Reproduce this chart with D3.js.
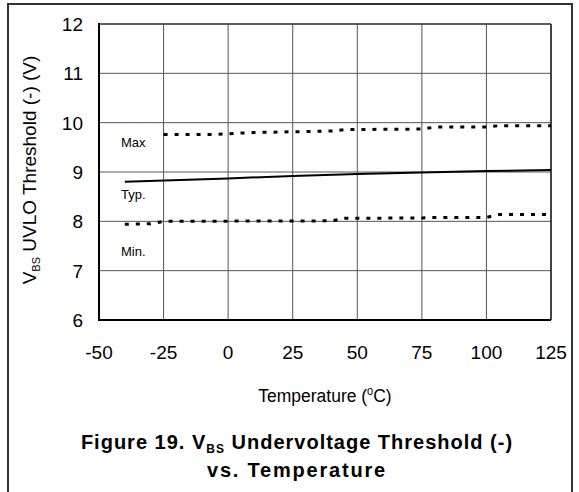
<!DOCTYPE html>
<html>
<head>
<meta charset="utf-8">
<script src="https://cdn.jsdelivr.net/npm/d3@7"></script>
<style>
body { margin: 0; background: #fff; }
text { font-family: Arial, "Liberation Sans", sans-serif; fill: #000; }
</style>
</head>
<body>
<script>
// values
var typTemp = [-40, 0, 25, 50, 75, 100, 125];
var typVolt = [8.80, 8.87, 8.92, 8.96, 8.99, 9.02, 9.04];

var maxTemp = [-25, -5, 5, 10, 40, 45, 75, 80, 100, 105, 125];
var maxVolt = [9.76, 9.76, 9.79, 9.80, 9.83, 9.86, 9.87, 9.91, 9.91, 9.94, 9.94];

var minTemp = [-40, -30, -25, 40, 45, 75, 80, 100, 105, 125];
var minVolt = [7.94, 7.95, 8.00, 8.01, 8.06, 8.07, 8.08, 8.08, 8.14, 8.14];

var xTicks = [-50, -25, 0, 25, 50, 75, 100, 125];
var yTicks = [6, 7, 8, 9, 10, 11, 12];

const width = 579, height = 492;

var svg = d3.select("body")
    .append("svg")
    .attr("width", width)
    .attr("height", height);

// outer frame
svg.append("rect")
    .attr("x", 8).attr("y", 4)
    .attr("width", 564).attr("height", 500)
    .attr("fill", "none")
    .attr("stroke", "#333")
    .attr("stroke-width", 2);

var x = d3.scaleLinear().domain([-50, 125]).range([99, 551]);
var y = d3.scaleLinear().domain([6, 12]).range([320, 24]);

// grid
svg.selectAll("line.vg")
    .data(xTicks)
    .enter()
    .append("line")
    .attr("x1", d => x(d)).attr("x2", d => x(d))
    .attr("y1", y(12)).attr("y2", y(6))
    .attr("stroke", "#555")
    .attr("stroke-width", 1);

svg.selectAll("line.hg")
    .data(yTicks)
    .enter()
    .append("line")
    .attr("x1", x(-50)).attr("x2", x(125))
    .attr("y1", d => y(d)).attr("y2", d => y(d))
    .attr("stroke", "#555")
    .attr("stroke-width", 1);

// frame of plot
svg.append("line")
    .attr("x1", x(-50)).attr("x2", x(125)).attr("y1", y(12)).attr("y2", y(12))
    .attr("stroke", "#444").attr("stroke-width", 1.5);
svg.append("line")
    .attr("x1", x(125)).attr("x2", x(125)).attr("y1", y(12)).attr("y2", y(6))
    .attr("stroke", "#222").attr("stroke-width", 1.5);
svg.append("line")
    .attr("x1", x(-50)).attr("x2", x(-50)).attr("y1", y(12) - 1).attr("y2", y(6) + 1)
    .attr("stroke", "#000").attr("stroke-width", 2);
svg.append("line")
    .attr("x1", x(-50) - 1).attr("x2", x(125)).attr("y1", y(6)).attr("y2", y(6))
    .attr("stroke", "#000").attr("stroke-width", 2);

// tick labels
svg.selectAll("text.yt")
    .data(yTicks)
    .enter()
    .append("text")
    .attr("x", 83)
    .attr("y", d => y(d) + 7)
    .attr("text-anchor", "end")
    .style("font-size", "19px")
    .text(d => d);

svg.selectAll("text.xt")
    .data(xTicks)
    .enter()
    .append("text")
    .attr("x", d => x(d))
    .attr("y", 359)
    .attr("text-anchor", "middle")
    .style("font-size", "19px")
    .text(d => d);

// axis titles
var yt = svg.append("text")
    .attr("transform", "translate(36,170) rotate(-90)")
    .attr("text-anchor", "middle")
    .style("font-size", "19px");
yt.append("tspan").text("V");
yt.append("tspan").attr("dy", 4).style("font-size", "11px").text("BS");
yt.append("tspan").attr("dy", -4).text(" UVLO Threshold (-) (V)");

var xt = svg.append("text")
    .attr("transform", "translate(325,402) scale(0.92,1)")
    .attr("text-anchor", "middle")
    .style("font-size", "19px");
xt.append("tspan").text("Temperature (");
xt.append("tspan").attr("dy", -7).style("font-size", "12px").text("o");
xt.append("tspan").attr("dy", 7).text("C)");

// caption
var c1 = svg.append("text")
    .attr("x", 297).attr("y", 449)
    .attr("text-anchor", "middle")
    .style("font-size", "20px")
    .style("font-weight", "bold")
    .style("letter-spacing", "1px");
c1.append("tspan").text("Figure 19. V");
c1.append("tspan").attr("dy", 4).style("font-size", "12px").text("BS");
c1.append("tspan").attr("dy", -4).text(" Undervoltage Threshold (-)");

svg.append("text")
    .attr("x", 297).attr("y", 477)
    .attr("text-anchor", "middle")
    .style("font-size", "20px")
    .style("font-weight", "bold")
    .style("letter-spacing", "1.8px")
    .text("vs. Temperature");

// curves
var line = d3.line()
    .x(d => x(d[0]))
    .y(d => y(d[1]));

svg.append("path")
    .datum(d3.zip(typTemp, typVolt))
    .attr("d", line)
    .attr("fill", "none")
    .attr("stroke", "#000")
    .attr("stroke-width", 2);

svg.append("path")
    .datum(d3.zip(maxTemp, maxVolt))
    .attr("d", line)
    .attr("fill", "none")
    .attr("stroke", "#000")
    .attr("stroke-width", 3)
    .attr("stroke-dasharray", "4,7");

svg.append("path")
    .datum(d3.zip(minTemp, minVolt))
    .attr("d", line)
    .attr("fill", "none")
    .attr("stroke", "#000")
    .attr("stroke-width", 3)
    .attr("stroke-dasharray", "4,7");

// curve labels
var labels = [["Max", 147], ["Typ.", 199], ["Min.", 256]];
svg.selectAll("text.lab")
    .data(labels)
    .enter()
    .append("text")
    .attr("x", 121)
    .attr("y", d => d[1])
    .style("font-size", "13px")
    .text(d => d[0]);
</script>
</body>
</html>
